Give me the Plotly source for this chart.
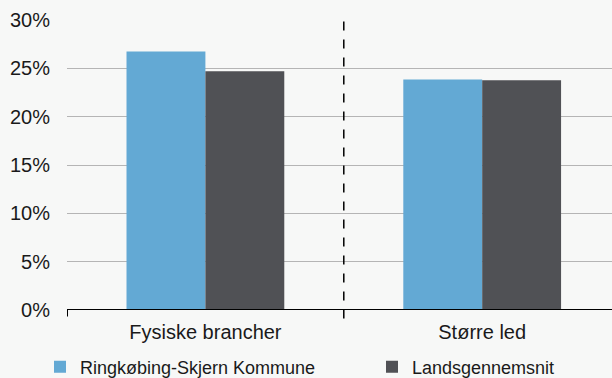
import plotly.graph_objects as go

categories = ["Fysiske brancher", "Større led"]
series_names = ["Ringkøbing-Skjern Kommune", "Landsgennemsnit"]
ringkobing = [0.2674, 0.2384]
landsgennemsnit = [0.2470, 0.2376]
colors = ["#63a9d4", "#505155"]
y_ticks = [0, 0.05, 0.10, 0.15, 0.20, 0.25, 0.30]
y_ticklabels = ["0%", "5%", "10%", "15%", "20%", "25%", "30%"]

xpos = list(range(len(categories)))
bg = "#f7f8f7"
font = "Liberation Sans, Arial, sans-serif"

fig = go.Figure()
legends = ["legend", "legend2"]
for name, vals, col, lg in zip(series_names, [ringkobing, landsgennemsnit], colors, legends):
    fig.add_trace(go.Bar(x=xpos, y=vals, name=name, legend=lg,
                         marker=dict(color=col, line=dict(width=0))))

leg_common = dict(orientation="h", xref="container", yref="container", xanchor="left",
                  yanchor="middle", y=0.029, font=dict(size=18, color="#1a1a1a"),
                  bgcolor="rgba(0,0,0,0)", itemclick=False, itemdoubleclick=False)

fig.update_layout(
    width=612, height=378,
    margin=dict(l=67, r=0, t=20, b=68),
    paper_bgcolor=bg, plot_bgcolor=bg,
    barmode="group", bargap=0.43, bargroupgap=0,
    font=dict(family=font, size=20, color="#1a1a1a"),
    showlegend=True,
    legend=dict(x=40 / 612, **leg_common),
    legend2=dict(x=372 / 612, **leg_common),
    xaxis=dict(range=[-0.5, 1.469], tickvals=xpos, ticktext=categories, showgrid=False,
               zeroline=False, showline=False, ticks="outside", ticklen=4, tickcolor=bg,
               tickfont=dict(size=20), automargin=False),
    yaxis=dict(range=[0, 0.30], tickvals=y_ticks, ticktext=y_ticklabels, showgrid=True,
               gridcolor="#b5b5b5", gridwidth=1, zeroline=False, showline=False,
               ticks="outside", ticklen=12, tickcolor=bg, tickfont=dict(size=20),
               automargin=False),
)

# axis line
fig.add_shape(type="line", xref="paper", yref="y", x0=0, x1=1, y0=0, y1=0,
              line=dict(color="black", width=2))
# left tick
fig.add_shape(type="line", xref="x", yref="paper", x0=-0.5, x1=-0.5, y0=0, y1=-0.022,
              line=dict(color="black", width=2))
# dashed separator
fig.add_shape(type="line", xref="x", yref="paper", x0=0.5, x1=0.5, y0=0.995, y1=-0.042,
              line=dict(color="black", width=1.5, dash="dash"))

fig.write_html("out.html", config={"displayModeBar": False},
               post_script="document.body.style.margin='0';document.body.style.overflow='hidden';")
